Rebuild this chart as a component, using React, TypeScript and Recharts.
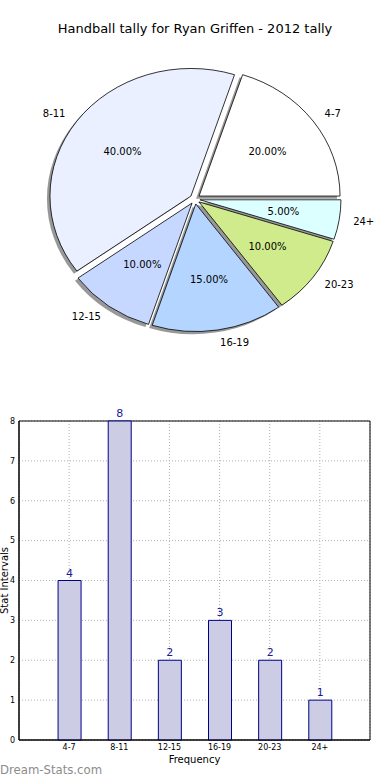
import React from "react";
import {
    PieChart,
    Pie,
    BarChart,
    Bar,
    XAxis,
    YAxis,
    CartesianGrid,
    LabelList,
    Label,
    ReferenceArea
} from 'recharts';

// values
const categories = ['4-7', '8-11', '12-15', '16-19', '20-23', '24+'];
const counts = [4, 8, 2, 3, 2, 1];
const sliceColors = ['#ffffff', '#eaf0ff', '#c6d8ff', '#b4d5ff', '#d0eb8c', '#dcffff'];
const xTicks = [1, 2, 3, 4, 5, 6];
const yTicks = [0, 1, 2, 3, 4, 5, 6, 7, 8];

const FONT = '"DejaVu Sans", sans-serif';
const RY = 0.905;      // matplotlib pie is squashed (axes not equal)
const EXPLODE = 5;
const SHADOW_DX = -3;
const SHADOW_DY = 2.6;

const pieData = categories.map((name, i) => ({ name, value: counts[i], fill: sliceColors[i] }));
const barData = categories.map((name, i) => ({ x: i + 1, name, count: counts[i] }));

const rad = (a: number) => a * Math.PI / 180;

const wedgePath = (cx: number, cy: number, r: number, start: number, end: number) => {
    const rx = r, ry = r * RY;
    const x1 = cx + rx * Math.cos(rad(start)), y1 = cy - ry * Math.sin(rad(start));
    const x2 = cx + rx * Math.cos(rad(end)), y2 = cy - ry * Math.sin(rad(end));
    const large = Math.abs(end - start) > 180 ? 1 : 0;
    return `M${cx},${cy} L${x1},${y1} A${rx},${ry} 0 ${large} 0 ${x2},${y2} Z`;
};

const explodedCenter = (p: any) => {
    const mid = (p.startAngle + p.endAngle) / 2;
    return [p.cx + EXPLODE * Math.cos(rad(mid)), p.cy - EXPLODE * Math.sin(rad(mid))];
};

const SliceShape = (p: any) => {
    const [ox, oy] = explodedCenter(p);
    return <path d={wedgePath(ox, oy, p.outerRadius, p.startAngle, p.endAngle)} fill={p.fill} stroke="#000" strokeWidth={0.8} />;
};

const ShadowShape = (p: any) => {
    const [ox, oy] = explodedCenter(p);
    return <path d={wedgePath(ox + SHADOW_DX, oy + SHADOW_DY, p.outerRadius, p.startAngle, p.endAngle)} fill="#444" fillOpacity={0.55} stroke="none" />;
};

const renderPieLabel = (p: any) => {
    const mid = p.midAngle;
    const c = Math.cos(rad(mid)), s = Math.sin(rad(mid));
    const ox = p.cx + EXPLODE * c, oy = p.cy - EXPLODE * s;
    const rx = p.outerRadius, ry = p.outerRadius * RY;
    return (
        <g>
            <text x={ox + 1.1 * rx * c} y={oy - 1.1 * ry * s} textAnchor={c >= 0 ? 'start' : 'end'}
                dominantBaseline="central" fontSize={10} fontFamily={FONT} fill="#000">
                {categories[p.index]}
            </text>
            <text x={ox + 0.6 * rx * c} y={oy - 0.6 * ry * s} textAnchor="middle"
                dominantBaseline="central" fontSize={10} fontFamily={FONT} fill="#000">
                {(p.percent * 100).toFixed(2)}%
            </text>
        </g>
    );
};

const YLabel = (props: any) => {
    const vb = props.viewBox || { y: 21, height: 319 };
    const cy = vb.y + vb.height / 2;
    return (
        <text x={8} y={cy} transform={`rotate(-90 8 ${cy})`} textAnchor="middle"
            fontSize={10} fontFamily={FONT} fill="#000">
            Stat Intervals
        </text>
    );
};

const App = () => {
    return (
        <div style={{ position: 'absolute', left: 0, top: 0, width: 390, height: 780, background: '#fff', fontFamily: FONT }}>
            <div style={{ position: 'absolute', top: 21, left: 0, width: 390, textAlign: 'center', fontSize: 13, color: '#000' }}>
                Handball tally for Ryan Griffen - 2012 tally
            </div>

            <div style={{ position: 'absolute', top: 0, left: 0 }}>
                <PieChart width={390} height={370} margin={{ top: 0, right: 0, bottom: 0, left: 0 }}>
                    <Pie data={pieData} dataKey="value" nameKey="name" cx={195} cy={199}
                        outerRadius={141} startAngle={0} endAngle={360}
                        shape={ShadowShape} label={false} labelLine={false}
                        isAnimationActive={false} />
                    <Pie data={pieData} dataKey="value" nameKey="name" cx={195} cy={199}
                        outerRadius={141} startAngle={0} endAngle={360}
                        shape={SliceShape} label={renderPieLabel} labelLine={false}
                        isAnimationActive={false} />
                </PieChart>
            </div>

            <div style={{ position: 'absolute', top: 400, left: 0 }}>
                <BarChart width={390} height={380} data={barData}
                    margin={{ top: 21, right: 20, bottom: 10, left: 5 }}>
                    <CartesianGrid stroke="#b0b0b0" strokeDasharray="1 2" />
                    <XAxis dataKey="x" type="number" domain={[0, 7]} ticks={xTicks}
                        tickFormatter={(v: number) => categories[v - 1]}
                        height={30} tickSize={3} tickMargin={1} tickLine={false}
                        axisLine={{ stroke: '#000' }}
                        tick={{ fontSize: 8, fill: '#000', fontFamily: FONT }}>
                        <Label value="Frequency" position="insideBottom" offset={7}
                            fontSize={10} fontFamily={FONT} fill="#000" />
                    </XAxis>
                    <YAxis domain={[0, 8]} ticks={yTicks} width={14} tickSize={3} tickMargin={1}
                        tickLine={false} axisLine={{ stroke: '#000' }}
                        tick={{ fontSize: 8, fill: '#000', fontFamily: FONT }}>
                        <Label content={YLabel} />
                    </YAxis>
                    <ReferenceArea x1={0} x2={7} y1={0} y2={8} fill="none" stroke="#000"
                        strokeWidth={1} fillOpacity={0} />
                    <Bar dataKey="count" fill="#ccccE5" stroke="#000088" strokeWidth={1}
                        barSize={23} isAnimationActive={false}>
                        <LabelList dataKey="count" position="top" offset={4}
                            fill="#1a1a9a" fontSize={11} fontFamily={FONT} />
                    </Bar>
                </BarChart>
            </div>

            <div style={{ position: 'absolute', top: 763, left: 0, fontSize: 11.7, color: '#8c8c8c' }}>
                Dream-Stats.com
            </div>
        </div>
    );
};

export default App;
